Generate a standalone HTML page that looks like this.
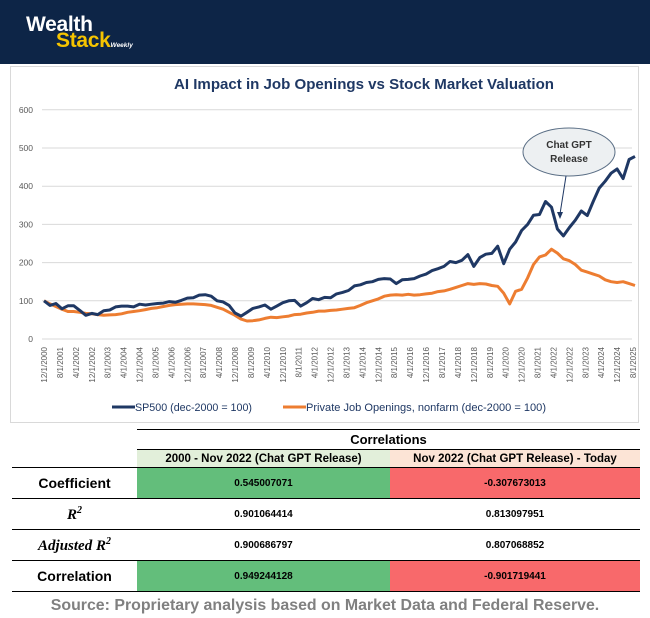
<!DOCTYPE html>
<html><head><meta charset="utf-8">
<style>
body{margin:0;width:650px;height:618px;background:#fff;font-family:"Liberation Sans",sans-serif;overflow:hidden;position:relative}
.hdr{position:absolute;left:0;top:0;width:650px;height:64px;background:#0d2547}
.box{position:absolute;left:10px;top:66px;width:629px;height:357px;border:1px solid #d9d9d9;box-sizing:border-box}
table{position:absolute;left:12px;top:429px;border-collapse:collapse;width:628px}
td{padding:0;text-align:center;font-size:10px;font-weight:bold;color:#000}
</style></head><body>
<div class="hdr">
 <div style="position:absolute;left:26px;top:14px;color:#fff;font-weight:bold;font-size:21px;line-height:21px;letter-spacing:-0.3px">Wealth</div>
 <div style="position:absolute;left:56px;top:30px;color:#f5c400;font-weight:bold;font-size:21px;line-height:21px;letter-spacing:-0.3px">Stack<span style="color:#fff;font-size:6.5px;font-style:italic;letter-spacing:0">Weekly</span></div>
</div>
<div class="box"></div>
<svg id="chart" width="650" height="425" style="position:absolute;left:0;top:0"></svg>
<table>
<tr style="height:20px"><td style="border:none"></td><td colspan="2" style="border-top:1px solid #000;border-bottom:1px solid #000;font-size:13px;color:#000">Correlations</td></tr>
<tr style="height:18px"><td style="border:none"></td><td style="background:#e2efda;font-size:11.5px;width:253px">2000 - Nov 2022 (Chat GPT Release)</td><td style="background:#fce4d6;font-size:11.5px">Nov 2022 (Chat GPT Release) - Today</td></tr>
<tr style="height:31px;border-top:1px solid #000;border-bottom:1px solid #000"><td style="font-size:14px;width:125px">Coefficient</td><td style="background:#63be7b">0.545007071</td><td style="background:#f8696b">-0.307673013</td></tr>
<tr style="height:31px;border-bottom:1px solid #000"><td style="font-size:15px;font-family:'Liberation Serif',serif;font-style:italic">R<sup style="font-size:10px">2</sup></td><td>0.901064414</td><td>0.813097951</td></tr>
<tr style="height:31px;border-bottom:1px solid #000"><td style="font-size:15px;font-family:'Liberation Serif',serif;font-style:italic">Adjusted R<sup style="font-size:10px">2</sup></td><td>0.900686797</td><td>0.807068852</td></tr>
<tr style="height:31px;border-bottom:1px solid #000"><td style="font-size:14px">Correlation</td><td style="background:#63be7b">0.949244128</td><td style="background:#f8696b">-0.901719441</td></tr>
</table>
<div style="position:absolute;left:0;width:650px;top:597px;text-align:center;color:#808080;font-weight:bold;font-size:15.9px">Source: Proprietary analysis based on Market Data and Federal Reserve.</div>
<script>
const sp500=[100,88,93,79,87,87,75,62,67,64,74,76,84,86,86,84,91,89,91,93,94,98,96,101,107,108,115,116,112,100,97,88,68,60,70,80,84,89,78,86,95,100,101,86,95,106,103,109,108,118,122,127,139,142,148,150,156,158,157,145,155,156,158,165,170,179,184,190,203,200,206,221,190,213,222,224,243,197,235,254,284,300,324,326,360,345,288,270,292,311,335,323,360,395,413,434,445,420,470,478];
const jobs=[100,92,85,78,72,72,70,67,66,64,62,63,64,66,70,72,74,77,80,82,85,88,90,91,92,92,91,90,88,83,78,70,62,52,47,48,50,54,57,56,58,60,64,65,68,70,73,73,75,76,78,80,82,88,95,100,105,112,115,116,115,117,115,116,118,120,124,126,130,135,140,145,143,145,144,140,138,120,92,125,130,160,195,215,220,235,225,210,205,195,180,175,170,165,155,150,148,150,145,140];
const yTicks=[0,100,200,300,400,500,600];
const NS="http://www.w3.org/2000/svg";
const svg=document.getElementById('chart');
const x0=44,pxPerMonth=1.99,yb=339,py=0.382;
const xm=m=>x0+m*pxPerMonth;
const yv=v=>yb-v*py;
function mk(t,a){const e=document.createElementNS(NS,t);for(const k in a)e.setAttribute(k,a[k]);svg.appendChild(e);return e;}
const title=mk('text',{x:174,y:89,'font-size':'15','font-weight':'bold',fill:'#1f3864',textLength:380,lengthAdjust:'spacingAndGlyphs'});
title.textContent='AI Impact in Job Openings vs Stock Market Valuation';


yTicks.forEach(v=>{
 const l=mk('line',{x1:42,x2:632,y1:yv(v),y2:yv(v),stroke:'#d9d9d9','stroke-width':1});
 
 
 const t=mk('text',{x:33,y:yv(v)+3,'text-anchor':'end','font-size':'8.5',fill:'#595959'});
 t.textContent=v;
 
 
});
for(let i=0;i<=37;i++){
 const m=i*8, yr=2000+Math.floor((11+m)/12), mo=((11+m)%12)+1;
 const xx=xm(m)+3;
 const t=mk('text',{x:xx,y:347,'text-anchor':'end','font-size':'8',fill:'#595959',transform:`rotate(-90 ${xx} 347)`});
 t.textContent=`${mo}/1/${yr}`;
 
 
}
function line(arr,col,name){
 const d=arr.map((v,i)=>(i?'L':'M')+xm(i*3).toFixed(1)+','+yv(v).toFixed(1)).join('');
 const p=mk('path',{d:d,fill:'none',stroke:col,'stroke-width':3,'stroke-linejoin':'round'});
 
 
}
line(jobs,'#ed7d31','job-openings-line');
line(sp500,'#1f3864','sp500-line');
const el=mk('ellipse',{cx:569,cy:152,rx:46,ry:24,fill:'#edf0f2',stroke:'#5a6e85','stroke-width':1});


[['Chat GPT',148],['Release',162]].forEach(([s,y])=>{const t=mk('text',{x:569,y:y,'text-anchor':'middle','font-size':'10','font-weight':'bold',fill:'#333'});t.textContent=s;});
const ar=mk('line',{x1:566,y1:176,x2:560,y2:214,stroke:'#1f3864','stroke-width':1});


const ah=mk('path',{d:'M557,212 L560,219 L563,212 Z',fill:'#1f3864'});


[[112,'#1f3864','SP500 (dec-2000 = 100)',135,117],[283,'#ed7d31','Private Job Openings, nonfarm (dec-2000 = 100)',306,240]].forEach(([x,c,s,tx,w])=>{
 const l=mk('line',{x1:x,x2:x+23,y1:407,y2:407,stroke:c,'stroke-width':3});
 
 
 const t=mk('text',{x:tx,y:411,'font-size':'11',fill:'#1f3864',textLength:w,lengthAdjust:'spacingAndGlyphs'});
 t.textContent=s;
 
 
});
</script>
</body></html>
